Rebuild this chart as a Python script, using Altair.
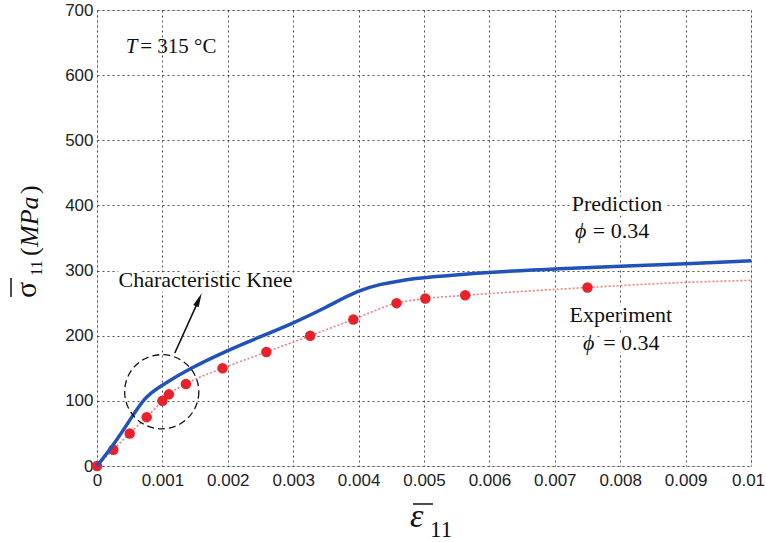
import altair as alt
import pandas as pd

# Experimental data (strain, stress in MPa)
exp_strain = [0.0, 0.00025, 0.0005, 0.00076, 0.0010, 0.0011, 0.00136, 0.00192,
              0.00259, 0.00326, 0.00392, 0.00458, 0.00502, 0.00563, 0.0075]
exp_stress = [0, 25, 50, 75, 100, 110, 126, 150, 175, 200, 225, 250, 257, 262, 274]

# Dotted trend through the experimental points, continued to the axis end
trend_strain = exp_strain + [0.0088, 0.01]
trend_stress = exp_stress + [281, 285]

# Model prediction curve
pred_strain = [0.0, 0.00025, 0.0005, 0.00073, 0.00096, 0.00142, 0.00201, 0.00234,
               0.0030, 0.00351, 0.0040, 0.00433, 0.00463, 0.00504, 0.00606,
               0.00708, 0.0081, 0.00912, 0.01]
pred_stress = [0, 32, 70, 106, 122, 150, 178, 192, 219, 244, 270, 279, 284.5, 290,
               298, 303, 307, 311, 315]

x_ticks = [0, 0.001, 0.002, 0.003, 0.004, 0.005, 0.006, 0.007, 0.008, 0.009, 0.01]
y_ticks = [0, 100, 200, 300, 400, 500, 600, 700]

# Annotation anchors in data units
knee_center = {"x": 0.00099, "y": 114}
arrow_line = {"x": 0.00119, "y": 173.5, "x2": 0.00157, "y2": 258}
arrow_head = {"x": 0.001557, "y": 255.3}
word_labels = [
    {"x": 0.00166, "y": 275, "text": "Characteristic Knee"},
    {"x": 0.00795, "y": 392, "text": "Prediction"},
    {"x": 0.00801, "y": 221, "text": "Experiment"},
]
phi_symbols = [
    {"x": 0.00731, "y": 350, "text": "\u03d5"},
    {"x": 0.00743, "y": 178, "text": "\u03d5"},
]
phi_values = [
    {"x": 0.00758, "y": 350, "text": "= 0.34"},
    {"x": 0.00774, "y": 178, "text": "= 0.34"},
]
temp_label = [{"x": 0.00044, "y": 634, "text": "T"}]
temp_value = [{"x": 0.00066, "y": 634, "text": "= 315 \u00b0C"}]

SERIF = "Liberation Serif"
SANS = "Liberation Sans"

xs = alt.Scale(domain=[0, 0.01], nice=False, zero=False)
ys = alt.Scale(domain=[0, 700], nice=False)

x_axis = alt.Axis(values=x_ticks, format="~g", title=None, grid=True, ticks=False,
                  domain=False, labelFont=SANS, labelFontSize=17, labelColor="#222",
                  labelPadding=6, labelFlush=False, labelOverlap=False,
                  labelOffset={"condition": {"test": "datum.value >= 0.0099", "value": -3},
                               "value": 0},
                  gridColor="#333", gridDash=[2, 3], gridOpacity=0.85)
y_axis = alt.Axis(values=y_ticks, title=None, grid=True, ticks=False, domain=False,
                  labelFont=SANS, labelFontSize=17, labelColor="#222",
                  labelPadding=4, labelFlush=False, labelOverlap=False,
                  gridColor="#333", gridDash=[2, 3], gridOpacity=0.85)

pred_df = pd.DataFrame({"strain": pred_strain, "stress": pred_stress})
exp_df = pd.DataFrame({"strain": exp_strain, "stress": exp_stress})
trend_df = pd.DataFrame({"strain": trend_strain, "stress": trend_stress})

trend = alt.Chart(trend_df).mark_line(
    color="#f27c7c", strokeWidth=1.6, strokeDash=[2, 2], interpolate="monotone"
).encode(
    x=alt.X("strain:Q", scale=xs, axis=x_axis),
    y=alt.Y("stress:Q", scale=ys, axis=y_axis),
)

points = alt.Chart(exp_df).mark_point(
    shape="circle", filled=True, size=110, color="#e8222a", opacity=1
).encode(x=alt.X("strain:Q", scale=xs), y=alt.Y("stress:Q", scale=ys))

pred = alt.Chart(pred_df).mark_line(
    color="#2152b8", strokeWidth=3.5, interpolate="basis"
).encode(x=alt.X("strain:Q", scale=xs), y=alt.Y("stress:Q", scale=ys))

knee = alt.Chart(pd.DataFrame([knee_center])).mark_point(
    shape="circle", filled=False, size=5500, stroke="#111", strokeWidth=1.3,
    strokeDash=[7, 4], opacity=1
).encode(x=alt.X("x:Q", scale=xs), y=alt.Y("y:Q", scale=ys))

arrow = alt.Chart(pd.DataFrame([arrow_line])).mark_rule(
    color="#111", strokeWidth=1.6
).encode(x=alt.X("x:Q", scale=xs), y=alt.Y("y:Q", scale=ys), x2="x2:Q", y2="y2:Q")

head = alt.Chart(pd.DataFrame([arrow_head])).mark_point(
    shape="M0,-1L0.42,1L-0.42,1Z", filled=True, size=200, color="#111",
    angle=24, opacity=1
).encode(x=alt.X("x:Q", scale=xs), y=alt.Y("y:Q", scale=ys))


def ann_text(rows, halo, align="center", style="normal", size=22):
    props = dict(font=SERIF, fontSize=size, fontStyle=style, color="#111",
                 align=align, baseline="alphabetic")
    if halo:
        props.update(stroke="white", strokeWidth=9, color="white")
    return alt.Chart(pd.DataFrame(rows)).mark_text(**props).encode(
        x=alt.X("x:Q", scale=xs), y=alt.Y("y:Q", scale=ys), text="text:N")


annotations = (
    ann_text(word_labels, True)
    + ann_text(phi_symbols, True, "left", "italic")
    + ann_text(phi_values, True, "left")
    + ann_text(word_labels, False)
    + ann_text(phi_symbols, False, "left", "italic")
    + ann_text(phi_values, False, "left")
    + ann_text(temp_label, False, "left", "italic", 21)
    + ann_text(temp_value, False, "left", "normal", 21)
)

# Axis titles built from pieces so the symbol, subscript and unit can differ in style
one = pd.DataFrame({"k": [0]})


def piece(text, x, y, size, style="normal", angle=0):
    return alt.Chart(one).mark_text(
        text=text, font=SERIF, fontSize=size, fontStyle=style, color="#111",
        align="left", baseline="alphabetic", angle=angle
    ).encode(x=alt.value(x), y=alt.value(y))


def bar(x, x2, y, y2):
    return alt.Chart(one).mark_rule(color="#111", strokeWidth=1.5).encode(
        x=alt.value(x), x2=alt.value(x2), y=alt.value(y), y2=alt.value(y2))


x_title = (
    piece("\u03b5", 313, 517, 34, "italic")
    + piece("11", 333, 527, 23)
    + bar(316, 336, 494, 494)
)
y_title = (
    piece("\u03c3", -61, 288, 30, angle=270)
    + piece("11", -55, 266, 16, angle=270)
    + piece("(", -59, 246, 26, angle=270)
    + piece("MPa", -59, 237, 26, "italic", angle=270)
    + piece(")", -59, 184, 26, angle=270)
    + bar(-86, -86, 268, 287)
)

chart = alt.layer(
    trend, points, pred, knee, arrow, head, annotations, x_title, y_title
).properties(
    width=654, height=456,
    autosize=alt.AutoSizeParams(type="none"),
    padding={"left": 97, "top": 10, "right": 15, "bottom": 76},
).configure_view(
    stroke="#555", strokeWidth=1.2
).configure(background="white")

chart.save("out.html", embed_options={"renderer": "svg", "actions": False})
